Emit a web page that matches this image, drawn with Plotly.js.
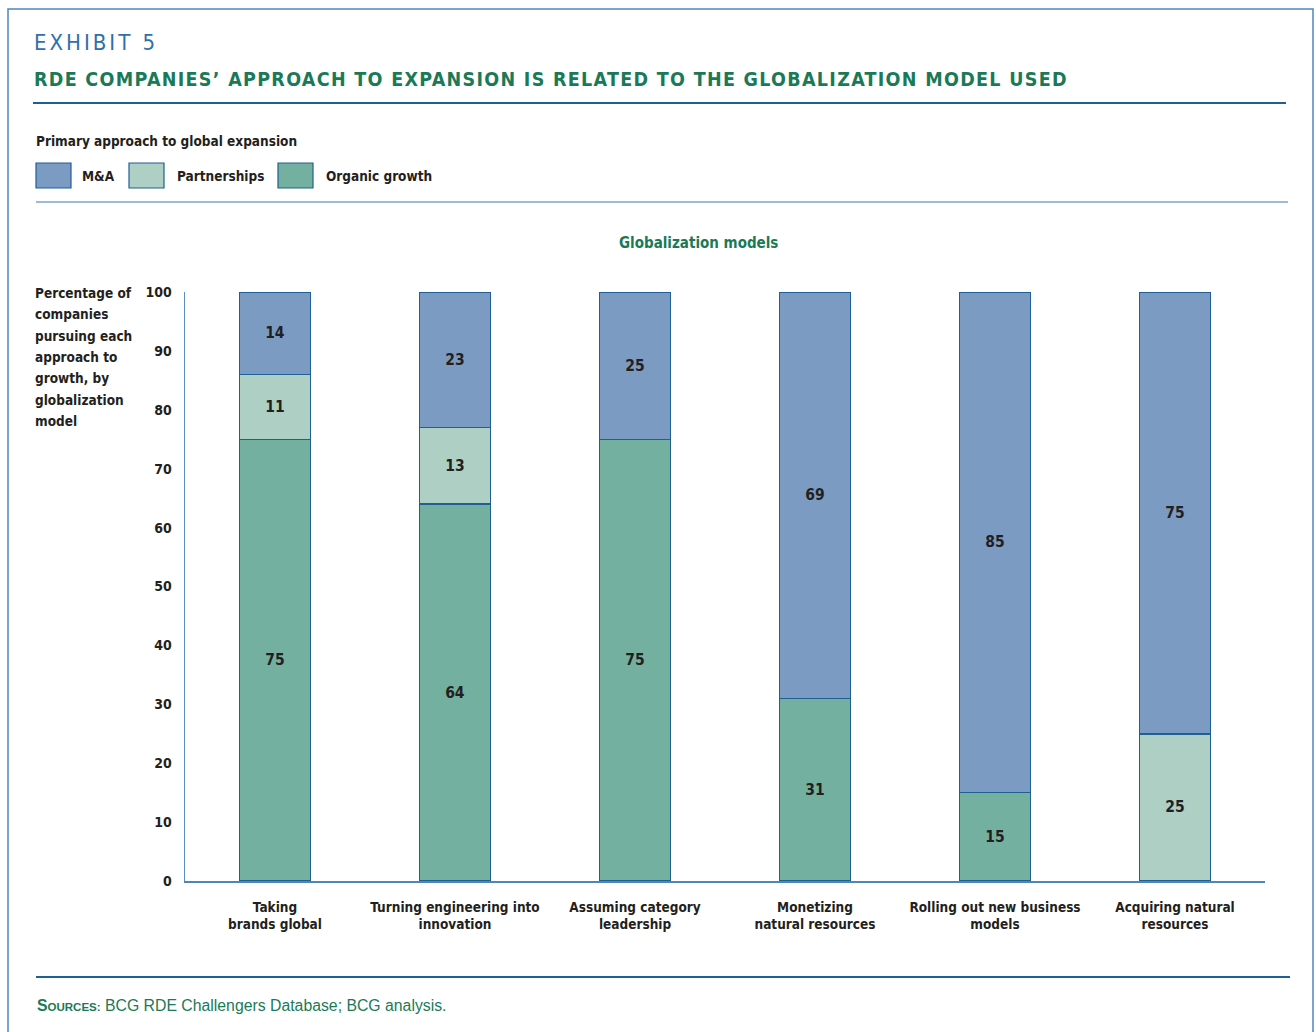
<!DOCTYPE html>
<html>
<head>
<meta charset="utf-8">
<script src="https://cdn.plot.ly/plotly-3.0.1.min.js"></script>
<style>
html,body{margin:0;padding:0;background:#fff;}
#chart{width:1316px;height:1032px;}
</style>
</head>
<body>
<div id="chart"></div>
<script>
// ---- data ----
const categories = [
  "Taking<br>brands global",
  "Turning engineering into<br>innovation",
  "Assuming category<br>leadership",
  "Monetizing<br>natural resources",
  "Rolling out new business<br>models",
  "Acquiring natural<br>resources"
];
const organicGrowth = [75, 64, 75, 31, 15, 0];
const partnerships  = [11, 13, 0, 0, 0, 25];
const mAndA         = [14, 23, 25, 69, 85, 75];
const seriesNames = ["Organic growth", "Partnerships", "M&A"];
const legendOrder = ["M&A", "Partnerships", "Organic growth"];
const yTicks = [0, 10, 20, 30, 40, 50, 60, 70, 80, 90, 100];
const yTitleLines = ["Percentage of", "companies", "pursuing each", "approach to", "growth, by", "globalization", "model"];

// ---- styles ----
const COND = "'DejaVu Sans Condensed', 'Liberation Sans Narrow', 'Arial Narrow', sans-serif";
const DARK = "#231f20";
const GREEN = "#1a7a57";
const LINEBLUE = "#1f5f94";
const colors = {"Organic growth": "#74b09f", "Partnerships": "#adcfc4", "M&A": "#7b9bc2"};

const L = 185, R = 1265, T = 292, B = 881;
const X = px => (px - L) / (R - L);
const Y = py => (B - py) / (B - T);

function mk(name, vals) {
  const v = vals.map(d => d === 0 ? null : d);
  return {
    type: "bar",
    name: name,
    x: categories,
    y: v,
    text: v.map(d => d === null ? "" : String(d)),
    textposition: "inside",
    insidetextanchor: "middle",
    textangle: 0,
    constraintext: "none",
    textfont: {family: COND, size: 15.5, color: DARK, weight: "bold"},
    marker: {color: colors[name], line: {color: LINEBLUE, width: 1.5}},
    hoverinfo: "skip",
    showlegend: false
  };
}

const data = [
  mk(seriesNames[0], organicGrowth),
  mk(seriesNames[1], partnerships),
  mk(seriesNames[2], mAndA)
];

const shapes = [
  {type: "rect", xref: "paper", yref: "paper", x0: X(8), x1: X(1313), y0: Y(9), y1: Y(1040), line: {color: "#4d86bb", width: 1.5}},
  {type: "line", xref: "paper", yref: "paper", x0: X(33), x1: X(1286), y0: Y(103), y1: Y(103), line: {color: LINEBLUE, width: 2}},
  {type: "line", xref: "paper", yref: "paper", x0: X(36), x1: X(1288), y0: Y(202), y1: Y(202), line: {color: "#3d78ae", width: 1.2}},
  {type: "line", xref: "paper", yref: "paper", x0: X(36), x1: X(1290), y0: Y(977), y1: Y(977), line: {color: LINEBLUE, width: 2}}
];

const legendBox = [36, 129, 278];
const legendText = [80, 175, 324];
legendOrder.forEach((name, i) => {
  shapes.push({type: "rect", xref: "paper", yref: "paper",
    x0: X(legendBox[i]), x1: X(legendBox[i] + 35), y0: Y(188), y1: Y(163),
    fillcolor: colors[name], line: {color: LINEBLUE, width: 1.2}});
});

const annotations = [
  {text: "<span style='letter-spacing:3px'>EXHIBIT 5</span>", xref: "paper", yref: "paper",
   x: X(32), y: Y(42), xanchor: "left", yanchor: "middle", showarrow: false,
   font: {family: COND, size: 22, color: "#2e6fad"}},
  {text: "<span style='letter-spacing:1.3px'><b>RDE COMPANIES’ APPROACH TO EXPANSION IS RELATED TO THE GLOBALIZATION MODEL USED</b></span>",
   xref: "paper", yref: "paper", x: X(32), y: Y(79), xanchor: "left", yanchor: "middle", showarrow: false,
   font: {family: COND, size: 19.5, color: GREEN}},
  {text: "<b>Primary approach to global expansion</b>", xref: "paper", yref: "paper",
   x: X(34), y: Y(141), xanchor: "left", yanchor: "middle", showarrow: false,
   font: {family: COND, size: 13.5, color: DARK}},
  {text: "<b>Globalization models</b>", xref: "paper", yref: "paper",
   x: X(698), y: Y(243), xanchor: "center", yanchor: "middle", showarrow: false,
   font: {family: COND, size: 15, color: GREEN}},
  {text: "<b>S<span style='font-size:11.5px'>OURCES:</span></b> BCG RDE Challengers Database; BCG analysis.",
   xref: "paper", yref: "paper", x: X(35), y: Y(1005), xanchor: "left", yanchor: "middle", showarrow: false,
   font: {family: "'Liberation Sans', Arial, sans-serif", size: 15.8, color: GREEN}}
];
yTitleLines.forEach((line, i) => {
  annotations.push({text: "<b>" + line + "</b>", xref: "paper", yref: "paper",
    x: X(33), y: Y(293 + i * 21.3), xanchor: "left", yanchor: "middle", showarrow: false,
    font: {family: COND, size: 13.5, color: DARK}});
});
legendOrder.forEach((name, i) => {
  annotations.push({text: "<b>" + name.replace("&", "&amp;") + "</b>", xref: "paper", yref: "paper",
    x: X(legendText[i]), y: Y(176), xanchor: "left", yanchor: "middle", showarrow: false,
    font: {family: COND, size: 13.5, color: DARK}});
});

const layout = {
  width: 1316, height: 1032,
  margin: {l: L, r: 1316 - R, t: T, b: 1032 - B, pad: 0},
  paper_bgcolor: "#ffffff", plot_bgcolor: "#ffffff",
  barmode: "stack",
  bargap: 0.605,
  showlegend: false,
  xaxis: {
    type: "category",
    showgrid: false, zeroline: false,
    showline: true, linecolor: "#4f86b8", linewidth: 1.5,
    ticks: "", ticklabelstandoff: 13, tickangle: 0,
    tickfont: {family: COND, size: 13.5, color: DARK, weight: "bold"},
    fixedrange: true
  },
  yaxis: {
    range: [0, 100],
    tickvals: yTicks, ticktext: yTicks.map(String),
    showgrid: false, zeroline: false,
    showline: true, linecolor: "#5b8fc0", linewidth: 1.5,
    ticks: "", ticklabelstandoff: 9,
    tickfont: {family: COND, size: 14, color: DARK, weight: "bold"},
    fixedrange: true
  },
  shapes: shapes,
  annotations: annotations
};

Plotly.newPlot("chart", data, layout, {displayModeBar: false, staticPlot: true});
</script>
</body>
</html>
